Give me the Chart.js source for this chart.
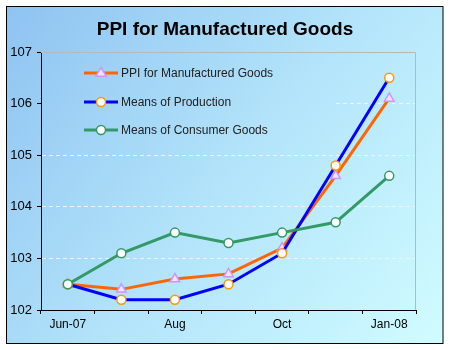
<!DOCTYPE html>
<html>
<head>
<meta charset="utf-8">
<script src="https://cdn.jsdelivr.net/npm/chart.js@4/dist/chart.umd.min.js"></script>
<style>
html,body{margin:0;padding:0;background:#fff;}
canvas{display:block;}
</style>
</head>
<body>
<canvas id="c" width="450" height="350"></canvas>
<script>
const categories = ["Jun-07", "Jul", "Aug", "Sep", "Oct", "Nov", "Jan-08"];
const xTickLabels = ["Jun-07", "", "Aug", "", "Oct", "", "Jan-08"];
const chartTitle = "PPI for Manufactured Goods";
const seriesNames = ["PPI for Manufactured Goods", "Means of Production", "Means of Consumer Goods"];
const ppiValues = [102.5, 102.4, 102.6, 102.7, 103.2, 104.6, 106.1];
const productionValues = [102.5, 102.2, 102.2, 102.5, 103.1, 104.8, 106.5];
const consumerValues = [102.5, 103.1, 103.5, 103.3, 103.5, 103.7, 104.6];
const yTicks = [102, 103, 104, 105, 106, 107];

const FONT = "'Liberation Sans', Arial, sans-serif";
function getGrad(ctx){
  const g = ctx.createLinearGradient(6, 6, 443, 343);
  g.addColorStop(0, '#8fc3f1');
  g.addColorStop(0.5, '#b2e3fa');
  g.addColorStop(1, '#d0fcff');
  return g;
}

const framePlugin = {
  id: 'frame',
  beforeDraw(chart){
    const ctx = chart.ctx;
    ctx.save();
    ctx.fillStyle = '#fff';
    ctx.fillRect(0, 0, chart.width, chart.height);
    ctx.fillStyle = getGrad(ctx);
    ctx.fillRect(6, 6, 437, 338);
    ctx.strokeStyle = '#000';
    ctx.lineWidth = 1;
    ctx.strokeRect(6.5, 6.5, 436.5, 337);
    // title
    ctx.fillStyle = '#000';
    ctx.font = 'bold 19px ' + FONT;
    ctx.textAlign = 'center';
    ctx.textBaseline = 'middle';
    ctx.fillText(chartTitle, 225, 30);
    ctx.restore();
  },
  beforeDatasetsDraw(chart){
    const ctx = chart.ctx;
    const a = chart.chartArea;
    ctx.save();
    // legend patch covering grid
    ctx.fillStyle = getGrad(ctx);
    ctx.fillRect(a.left + 1, a.top + 2, 333 - a.left - 1, 150 - a.top - 2);
    // plot border top/right
    ctx.strokeStyle = '#b8b8b8';
    ctx.lineWidth = 1;
    ctx.beginPath();
    ctx.moveTo(a.left, Math.round(a.top) + 0.5);
    ctx.lineTo(Math.round(a.right) - 0.5, Math.round(a.top) + 0.5);
    ctx.lineTo(Math.round(a.right) - 0.5, a.bottom);
    ctx.stroke();
    // legend
    const rows = [73, 102, 130];
    chart.data.datasets.forEach((ds, i) => {
      const y = rows[i];
      ctx.strokeStyle = ds.borderColor;
      ctx.lineWidth = ds.borderWidth;
      ctx.beginPath();
      ctx.moveTo(84, y);
      ctx.lineTo(118, y);
      ctx.stroke();
      ctx.fillStyle = ds.pointBackgroundColor;
      ctx.strokeStyle = ds.pointBorderColor;
      ctx.lineWidth = ds.pointBorderWidth;
      const cx = 101;
      if (ds.pointStyle === 'triangle') {
        const r = ds.pointRadius;
        ctx.beginPath();
        ctx.moveTo(cx, y - r);
        ctx.lineTo(cx + r * 0.95, y + r * 0.6);
        ctx.lineTo(cx - r * 0.95, y + r * 0.6);
        ctx.closePath();
        ctx.fill(); ctx.stroke();
      } else {
        ctx.beginPath();
        ctx.arc(cx, y, ds.pointRadius, 0, Math.PI * 2);
        ctx.fill(); ctx.stroke();
      }
      ctx.fillStyle = '#222';
      ctx.font = '12px ' + FONT;
      ctx.textBaseline = 'middle';
      ctx.textAlign = 'left';
      ctx.fillText(seriesNames[i], 121, y + 1);
    });
    ctx.restore();
  }
};

new Chart(document.getElementById('c'), {
  type: 'line',
  data: {
    labels: categories,
    datasets: [
      {
        label: seriesNames[0], data: ppiValues,
        borderColor: '#ff6600', borderWidth: 3,
        pointStyle: 'triangle', pointRadius: 5.5,
        pointBackgroundColor: '#f2e2ff', pointBorderColor: '#c898ff', pointBorderWidth: 1.5,
        tension: 0, order: 2
      },
      {
        label: seriesNames[1], data: productionValues,
        borderColor: '#0000ff', borderWidth: 3,
        pointStyle: 'circle', pointRadius: 4.5,
        pointBackgroundColor: '#ffffff', pointBorderColor: '#ff9900', pointBorderWidth: 1.5,
        tension: 0, order: 1
      },
      {
        label: seriesNames[2], data: consumerValues,
        borderColor: '#339966', borderWidth: 3,
        pointStyle: 'circle', pointRadius: 4.5,
        pointBackgroundColor: '#ffffff', pointBorderColor: '#339966', pointBorderWidth: 1.5,
        tension: 0, order: 0
      }
    ]
  },
  options: {
    responsive: false,
    animation: false,
    devicePixelRatio: 1,
    layout: { padding: { left: 0, right: 34, top: 52, bottom: 0 } },
    plugins: {
      legend: { display: false },
      tooltip: { enabled: false },
      title: { display: false }
    },
    scales: {
      x: {
        offset: true,
        grid: { offset: true, drawOnChartArea: false, tickLength: 4, tickColor: '#000' },
        border: { color: '#000', width: 1 },
        ticks: {
          autoSkip: false, maxRotation: 0, padding: 3, color: '#000',
          font: { family: FONT, size: 12 },
          callback: (v, i) => xTickLabels[i]
        },
        afterFit: s => { s.height = 40; }
      },
      y: {
        min: yTicks[0], max: yTicks[yTicks.length - 1],
        afterBuildTicks: s => { s.ticks = yTicks.map(v => ({ value: v })); },
        grid: {
          color: c => (c.tick && (c.tick.value === yTicks[0] || c.tick.value === yTicks[yTicks.length - 1])) ? 'rgba(0,0,0,0)' : '#eef4fa',
          tickLength: 4, tickColor: '#000', lineWidth: 1
        },
        border: { color: '#000', width: 1, dash: [4, 3] },
        ticks: { padding: 5, color: '#000', font: { family: FONT, size: 13 } },
        afterFit: s => { s.width = 41; }
      }
    }
  },
  plugins: [framePlugin]
});
</script>
</body>
</html>
